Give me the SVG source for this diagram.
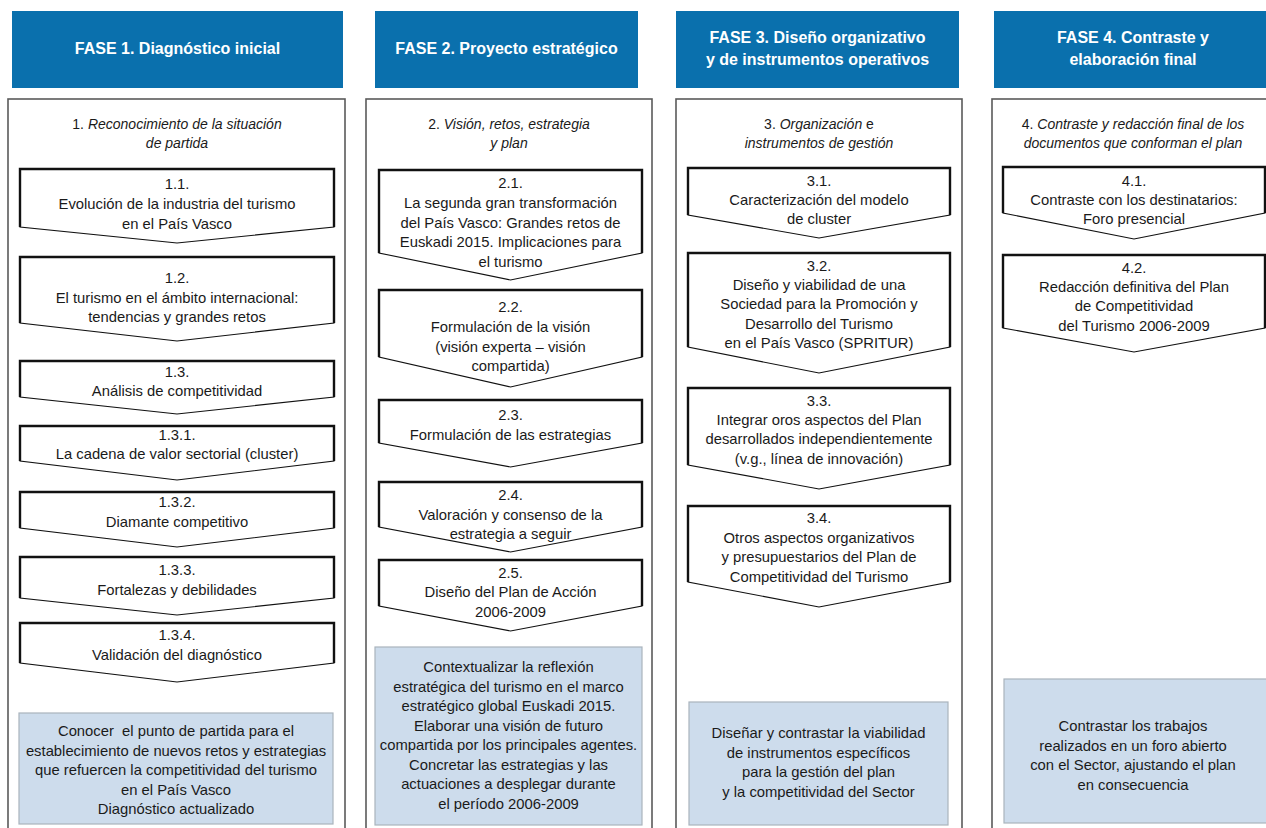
<svg xmlns="http://www.w3.org/2000/svg" width="1266" height="828" viewBox="0 0 1266 828">
<style>
.hdr{fill:#0a70ad}
.ht{font-family:"Liberation Sans",Arial,sans-serif;font-size:16px;font-weight:bold;fill:#fff;text-anchor:middle}
.panel{fill:#fff;stroke:#5a5a5a;stroke-width:1.6}
.sub{font-family:"Liberation Sans",Arial,sans-serif;font-size:14px;fill:#1a1a1a;text-anchor:middle;font-style:italic}
.up{font-style:normal}
.t{font-family:"Liberation Sans",Arial,sans-serif;font-size:14.8px;fill:#1a1a1a;text-anchor:middle}
.chev{fill:#fff;stroke:#111;stroke-width:1.1}
.edge{fill:none;stroke:#111;stroke-width:2.4}
.goal{fill:#cddcec;stroke:#aab4bd;stroke-width:1.2}
</style>
<rect width="1266" height="828" fill="#fff"/>

<!-- Headers -->
<g id="fase1-header"><rect class="hdr" x="12" y="11" width="331" height="77"/><text class="ht" x="177.5" y="54">FASE 1. Diagnóstico inicial</text></g>
<g id="fase2-header"><rect class="hdr" x="375" y="11" width="263" height="77"/><text class="ht" x="506.5" y="54">FASE 2. Proyecto estratégico</text></g>
<g id="fase3-header"><rect class="hdr" x="676" y="11" width="283" height="77"/><text class="ht" x="817.5" y="43">FASE 3. Diseño organizativo</text><text class="ht" x="817.5" y="65">y de instrumentos operativos</text></g>
<g id="fase4-header"><rect class="hdr" x="994" y="11" width="280" height="77"/><text class="ht" x="1133" y="43">FASE 4. Contraste y</text><text class="ht" x="1133" y="65">elaboración final</text></g>

<!-- Panels -->
<g id="panel1"><rect class="panel" x="8" y="99" width="337" height="740"/><text class="sub" x="177" y="129"><tspan class="up">1. </tspan>Reconocimiento de la situación</text><text class="sub" x="177" y="148">de partida</text></g>
<g id="panel2"><rect class="panel" x="366" y="99" width="286" height="740"/><text class="sub" x="509" y="129"><tspan class="up">2. </tspan>Visión, retos, estrategia</text><text class="sub" x="509" y="148">y plan</text></g>
<g id="panel3"><rect class="panel" x="676" y="99" width="286" height="740"/><text class="sub" x="819" y="129"><tspan class="up">3. </tspan>Organización <tspan class="up">e</tspan></text><text class="sub" x="819" y="148">instrumentos de gestión</text></g>
<g id="panel4"><rect class="panel" x="992" y="99" width="290" height="740"/><text class="sub" x="1133" y="129"><tspan class="up">4. </tspan>Contraste y redacción final de los</text><text class="sub" x="1133" y="148">documentos que conforman el plan</text></g>

<!-- Column 1 nodes -->
<g id="n1-1"><path class="chev" d="M20,169H334V227L177,243L20,227Z"/><path class="edge" d="M20,227V169H334V227"/><text class="t" x="177" y="189">1.1.</text><text class="t" x="177" y="209">Evolución de la industria del turismo</text><text class="t" x="177" y="229">en el País Vasco</text></g>
<g id="n1-2"><path class="chev" d="M20,257H334V323L177,341L20,323Z"/><path class="edge" d="M20,323V257H334V323"/><text class="t" x="177" y="283">1.2.</text><text class="t" x="177" y="303">El turismo en el ámbito internacional:</text><text class="t" x="177" y="322">tendencias y grandes retos</text></g>
<g id="n1-3"><path class="chev" d="M20,361H334V397L177,414L20,397Z"/><path class="edge" d="M20,397V361H334V397"/><text class="t" x="177" y="377">1.3.</text><text class="t" x="177" y="396">Análisis de competitividad</text></g>
<g id="n1-3-1"><path class="chev" d="M20,426H334V461L177,480L20,461Z"/><path class="edge" d="M20,461V426H334V461"/><text class="t" x="177" y="440">1.3.1.</text><text class="t" x="177" y="459">La cadena de valor sectorial (cluster)</text></g>
<g id="n1-3-2"><path class="chev" d="M20,492H334V528L177,547L20,528Z"/><path class="edge" d="M20,528V492H334V528"/><text class="t" x="177" y="507">1.3.2.</text><text class="t" x="177" y="527">Diamante competitivo</text></g>
<g id="n1-3-3"><path class="chev" d="M20,557H334V598L177,615L20,598Z"/><path class="edge" d="M20,598V557H334V598"/><text class="t" x="177" y="575">1.3.3.</text><text class="t" x="177" y="595">Fortalezas y debilidades</text></g>
<g id="n1-3-4"><path class="chev" d="M20,623H334V663L177,682L20,663Z"/><path class="edge" d="M20,663V623H334V663"/><text class="t" x="177" y="640">1.3.4.</text><text class="t" x="177" y="660">Validación del diagnóstico</text></g>
<g id="goal1"><rect class="goal" x="19" y="713" width="314" height="111"/><text class="t" x="176" y="736">Conocer&#160; el punto de partida para el</text><text class="t" x="176" y="755.5">establecimiento de nuevos retos y estrategias</text><text class="t" x="176" y="775">que refuercen la competitividad del turismo</text><text class="t" x="176" y="794.5">en el País Vasco</text><text class="t" x="176" y="814">Diagnóstico actualizado</text></g>

<!-- Column 2 nodes -->
<g id="n2-1"><path class="chev" d="M379,170H642V253L510.5,280L379,253Z"/><path class="edge" d="M379,253V170H642V253"/><text class="t" x="510.5" y="188">2.1.</text><text class="t" x="510.5" y="208">La segunda gran transformación</text><text class="t" x="510.5" y="228">del País Vasco: Grandes retos de</text><text class="t" x="510.5" y="247">Euskadi 2015. Implicaciones para</text><text class="t" x="510.5" y="267">el turismo</text></g>
<g id="n2-2"><path class="chev" d="M379,290H642V357L510.5,387L379,357Z"/><path class="edge" d="M379,357V290H642V357"/><text class="t" x="510.5" y="312">2.2.</text><text class="t" x="510.5" y="332">Formulación de la visión</text><text class="t" x="510.5" y="352">(visión experta – visión</text><text class="t" x="510.5" y="371">compartida)</text></g>
<g id="n2-3"><path class="chev" d="M379,400H642V443L510.5,467L379,443Z"/><path class="edge" d="M379,443V400H642V443"/><text class="t" x="510.5" y="420">2.3.</text><text class="t" x="510.5" y="440">Formulación de las estrategias</text></g>
<g id="n2-4"><path class="chev" d="M379,482H642V527L510.5,552L379,527Z"/><path class="edge" d="M379,527V482H642V527"/><text class="t" x="510.5" y="500">2.4.</text><text class="t" x="510.5" y="520">Valoración y consenso de la</text><text class="t" x="510.5" y="539">estrategia a seguir</text></g>
<g id="n2-5"><path class="chev" d="M379,560H642V606L510.5,631L379,606Z"/><path class="edge" d="M379,606V560H642V606"/><text class="t" x="510.5" y="578">2.5.</text><text class="t" x="510.5" y="597">Diseño del Plan de Acción</text><text class="t" x="510.5" y="617">2006-2009</text></g>
<g id="goal2"><rect class="goal" x="375" y="647" width="267" height="178"/><text class="t" x="508.5" y="672">Contextualizar la reflexión</text><text class="t" x="508.5" y="691.5">estratégica del turismo en el marco</text><text class="t" x="508.5" y="711">estratégico global Euskadi 2015.</text><text class="t" x="508.5" y="730.5">Elaborar una visión de futuro</text><text class="t" x="508.5" y="750">compartida por los principales agentes.</text><text class="t" x="508.5" y="769.5">Concretar las estrategias y las</text><text class="t" x="508.5" y="789">actuaciones a desplegar durante</text><text class="t" x="508.5" y="808.5">el período 2006-2009</text></g>

<!-- Column 3 nodes -->
<g id="n3-1"><path class="chev" d="M688,168H950V215L819,238L688,215Z"/><path class="edge" d="M688,215V168H950V215"/><text class="t" x="819" y="186">3.1.</text><text class="t" x="819" y="205">Caracterización del modelo</text><text class="t" x="819" y="224">de cluster</text></g>
<g id="n3-2"><path class="chev" d="M688,253H950V347L819,373L688,347Z"/><path class="edge" d="M688,347V253H950V347"/><text class="t" x="819" y="271">3.2.</text><text class="t" x="819" y="290">Diseño y viabilidad de una</text><text class="t" x="819" y="309">Sociedad para la Promoción y</text><text class="t" x="819" y="329">Desarrollo del Turismo</text><text class="t" x="819" y="348">en el País Vasco (SPRITUR)</text></g>
<g id="n3-3"><path class="chev" d="M688,388H950V465L819,489L688,465Z"/><path class="edge" d="M688,465V388H950V465"/><text class="t" x="819" y="406">3.3.</text><text class="t" x="819" y="425">Integrar oros aspectos del Plan</text><text class="t" x="819" y="444">desarrollados independientemente</text><text class="t" x="819" y="464">(v.g., línea de innovación)</text></g>
<g id="n3-4"><path class="chev" d="M688,506H950V582L819,607L688,582Z"/><path class="edge" d="M688,582V506H950V582"/><text class="t" x="819" y="523">3.4.</text><text class="t" x="819" y="543">Otros aspectos organizativos</text><text class="t" x="819" y="562">y presupuestarios del Plan de</text><text class="t" x="819" y="582">Competitividad del Turismo</text></g>
<g id="goal3"><rect class="goal" x="689" y="702" width="259" height="123"/><text class="t" x="818.5" y="738">Diseñar y contrastar la viabilidad</text><text class="t" x="818.5" y="757.5">de instrumentos específicos</text><text class="t" x="818.5" y="777">para la gestión del plan</text><text class="t" x="818.5" y="796.5">y la competitividad del Sector</text></g>

<!-- Column 4 nodes -->
<g id="n4-1"><path class="chev" d="M1003,167H1265V213L1134,239L1003,213Z"/><path class="edge" d="M1003,213V167H1265V213"/><text class="t" x="1134" y="186">4.1.</text><text class="t" x="1134" y="205">Contraste con los destinatarios:</text><text class="t" x="1134" y="224">Foro presencial</text></g>
<g id="n4-2"><path class="chev" d="M1003,255H1265V328L1134,352L1003,328Z"/><path class="edge" d="M1003,328V255H1265V328"/><text class="t" x="1134" y="273">4.2.</text><text class="t" x="1134" y="292">Redacción definitiva del Plan</text><text class="t" x="1134" y="311">de Competitividad</text><text class="t" x="1134" y="331">del Turismo 2006-2009</text></g>
<g id="goal4"><rect class="goal" x="1004" y="679" width="270" height="144"/><text class="t" x="1133" y="731">Contrastar los trabajos</text><text class="t" x="1133" y="750.5">realizados en un foro abierto</text><text class="t" x="1133" y="770">con el Sector, ajustando el plan</text><text class="t" x="1133" y="789.5">en consecuencia</text></g>

<g id="connectors"></g>
</svg>
